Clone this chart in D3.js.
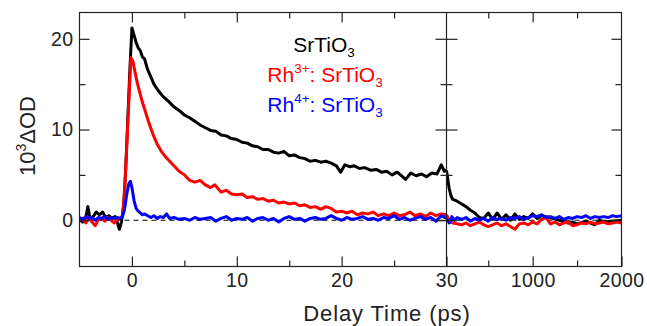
<!DOCTYPE html>
<html>
<head>
<meta charset="utf-8">
<script src="https://cdn.jsdelivr.net/npm/d3@7"></script>
<style>
  html, body { margin: 0; padding: 0; background: #fff; }
  svg { display: block; font-family: "Liberation Sans", Arial, sans-serif; }
</style>
</head>
<body>
<svg id="chart" width="647" height="326"></svg>
<script>
// ---------------- DATA ----------------
// Left panel: delay time -5 .. 30 ps (linear); right panel: 30 .. 2000 ps (linear)
const seriesNames = ["SrTiO3", "Rh3+: SrTiO3", "Rh4+: SrTiO3"];
const seriesColors = ["#000000", "#ff0000", "#0000ff"];

const xTicksLeftMajor = [0, 10, 20];
const xTicksLeftMinor = [5, 15, 25];
const xTicksRightLabelled = [30, 1000, 2000];
const xTicksRightMajor = [1000];
const xTicksRightMinor = [500, 1500];
const yTicksMajor = [0, 10, 20];
const yTicksMinor = [5, 15];

// SrTiO3 (black), short delays [t (ps), 10^3 dOD]
const blackShort = [
  [-5.0,0.1],[-4.7,-0.2],[-4.4,0.3],[-4.2,1.5],[-4.0,0.2],[-3.7,0.4],[-3.4,0.9],[-3.1,0.6],
  [-2.8,0.9],[-2.5,0.3],[-2.2,0.5],[-1.9,0.2],[-1.6,0.4],[-1.4,-0.2],[-1.2,-1.0],[-1.0,-0.2],
  [-0.8,1.5],[-0.6,5.5],[-0.4,11.0],[-0.2,16.5],[0.0,21.2],[0.2,20.4],[0.4,19.6],[0.6,19.0],
  [0.8,18.7],[1.0,18.0],[1.2,17.8],[1.5,16.6],[1.8,15.8],[2.1,15.0],[2.5,14.3],[3.0,13.6],
  [3.5,13.1],[4.0,12.5],[4.5,12.1],[5.0,11.6],[5.5,11.3],[6.0,10.9],[6.5,10.5],[7.0,10.2],
  [7.5,9.9],[8.0,9.8],[8.5,9.4],[9.0,9.3],[9.5,9.0],[10.0,8.9],[10.5,8.6],[11.0,8.5],
  [11.5,8.2],[12.0,8.1],[12.5,7.8],[13.0,7.8],[13.5,7.5],[14.0,7.4],[14.5,7.6],[15.0,7.1],
  [15.5,7.2],[16.0,6.9],[16.5,6.8],[17.0,6.5],[17.5,6.6],[18.0,6.4],[18.5,6.5],[19.0,6.3],
  [19.5,6.0],[19.9,5.3],[20.3,6.1],[20.8,5.9],[21.2,6.0],[21.7,5.7],[22.2,5.8],[22.8,5.5],
  [23.3,5.6],[23.8,5.3],[24.3,5.4],[24.8,5.0],[25.3,5.3],[25.8,4.8],[26.1,4.5],[26.6,5.2],
  [27.1,4.9],[27.6,5.1],[28.1,4.8],[28.6,5.2],[29.1,5.1],[29.5,6.1],[29.8,5.4],[30.0,5.5]
];
// SrTiO3 (black), long delays
const blackLong = [
  [30,5.5],[45,4.5],[60,3.5],[80,2.7],[100,2.3],[150,2.1],[200,1.8],[250,1.5],[300,1.1],
  [350,0.8],[400,0.3],[450,0.2],[500,0.8],[550,0.1],[600,0.8],[650,0.1],[700,0.6],[750,0.0],
  [800,0.7],[850,0.1],[900,0.4],[950,0.2],[1000,0.7],[1050,0.2],[1100,0.5],[1150,0.4],
  [1200,0.3],[1300,0.0],[1400,-0.3],[1450,-0.2],[1500,-0.4],[1600,-0.1],[1700,-0.5],
  [1750,0.0],[1800,-0.2],[1900,-0.1],[2000,0.0]
];

// Rh3+:SrTiO3 (red), short delays
const redShort = [
  [-5.0,0.0],[-4.7,0.2],[-4.4,-0.3],[-4.1,0.3],[-3.8,-0.2],[-3.5,-0.6],[-3.2,0.1],[-2.9,0.2],
  [-2.6,-0.1],[-2.3,0.3],[-2.0,0.0],[-1.7,-0.3],[-1.4,0.1],[-1.1,0.2],[-0.9,0.5],[-0.7,3.0],
  [-0.5,8.0],[-0.3,13.0],[-0.1,17.9],[0.1,17.5],[0.3,16.3],[0.5,15.2],[0.7,14.3],[1.0,13.0],
  [1.3,11.9],[1.6,10.8],[2.0,9.5],[2.4,8.4],[2.8,7.6],[3.2,7.0],[3.6,6.5],[4.0,6.0],
  [4.5,5.4],[5.0,5.0],[5.5,4.4],[6.0,4.2],[6.5,4.4],[7.0,3.9],[7.5,3.6],[7.9,3.9],
  [8.5,3.1],[9.0,3.3],[9.5,2.9],[10.0,2.8],[10.5,2.9],[11.0,2.5],[11.5,2.6],[12.0,2.3],
  [12.5,2.4],[13.0,2.1],[13.5,2.2],[14.0,1.9],[14.5,2.0],[15.0,1.8],[15.5,1.9],[16.0,1.6],
  [16.5,1.7],[17.0,1.4],[17.5,1.5],[18.0,1.2],[18.5,1.5],[19.0,1.3],[19.5,0.9],[20.0,1.0],
  [20.5,0.8],[21.0,1.0],[21.5,0.6],[22.0,0.8],[22.5,0.7],[23.0,0.9],[23.5,0.5],[24.0,0.7],
  [24.5,0.5],[25.0,0.8],[25.5,0.5],[26.0,0.6],[26.5,0.9],[27.0,0.5],[27.5,0.7],[28.0,0.4],
  [28.5,0.8],[29.0,0.5],[29.5,0.7],[30.0,0.6]
];
// Rh3+:SrTiO3 (red), long delays
const redLong = [
  [30,0.6],[50,0.2],[75,-0.2],[100,-0.3],[150,-0.4],[200,-0.5],[250,-0.3],[300,-0.6],
  [350,-0.4],[400,-0.2],[450,-0.5],[500,-0.7],[550,-0.5],[600,-0.3],[650,-0.6],[700,-0.4],
  [750,-0.7],[800,-1.0],[850,-0.4],[900,-0.3],[950,-0.5],[1000,-0.2],[1050,-0.4],[1100,0.1],
  [1150,0.3],[1200,-0.4],[1250,-0.2],[1300,-0.5],[1350,-0.3],[1400,-0.2],[1450,-0.6],
  [1500,-0.5],[1550,-0.3],[1600,-0.4],[1650,-0.2],[1700,-0.4],[1750,-0.3],[1800,-0.2],
  [1850,-0.4],[1900,-0.3],[1950,-0.2],[2000,-0.3]
];

// Rh4+:SrTiO3 (blue), short delays
const blueShort = [
  [-5.0,0.3],[-4.7,0.1],[-4.4,0.4],[-4.1,0.2],[-3.8,0.3],[-3.5,0.0],[-3.2,0.3],[-2.9,0.2],
  [-2.6,0.4],[-2.3,0.1],[-2.0,0.3],[-1.7,0.2],[-1.4,0.3],[-1.1,0.2],[-0.9,0.4],[-0.7,1.2],
  [-0.5,2.8],[-0.3,4.0],[-0.15,4.3],[0.0,3.6],[0.2,2.2],[0.4,1.3],[0.6,1.0],[0.8,0.8],
  [1.0,0.6],[1.2,0.7],[1.5,0.5],[1.8,0.3],[2.1,0.5],[2.4,0.2],[2.7,0.4],[3.0,0.3],
  [3.3,0.7],[3.6,0.2],[4.0,0.3],[4.5,0.1],[5.0,0.2],[5.5,0.0],[6.0,0.3],[6.5,0.1],
  [7.0,0.2],[7.5,0.3],[8.0,-0.1],[8.5,0.2],[9.0,0.4],[9.5,0.0],[10.0,0.2],[10.5,0.1],
  [11.0,0.3],[11.5,-0.1],[12.0,0.2],[12.5,0.3],[13.0,0.0],[13.5,0.2],[14.0,-0.2],[14.5,0.2],
  [15.0,0.4],[15.5,0.1],[16.0,0.2],[16.5,-0.1],[17.0,0.2],[17.5,0.3],[18.0,0.1],[18.5,0.2],
  [19.0,0.5],[19.5,0.2],[20.0,0.0],[20.5,0.3],[21.0,0.1],[21.5,0.2],[22.0,0.4],[22.5,0.1],
  [23.0,0.2],[23.5,0.0],[24.0,0.3],[24.5,0.2],[25.0,0.5],[25.5,0.1],[26.0,0.3],[26.5,0.0],
  [27.0,0.2],[27.5,0.4],[28.0,0.1],[28.5,0.3],[29.0,-0.1],[29.5,0.5],[30.0,0.2]
];
// Rh4+:SrTiO3 (blue), long delays
const blueLong = [
  [30,0.2],[60,-0.3],[90,0.4],[120,0.0],[150,0.3],[200,0.1],[250,0.3],[300,-0.1],[350,0.2],
  [400,0.0],[450,0.2],[500,-0.1],[550,0.3],[600,0.1],[650,0.2],[700,0.0],[750,0.3],[800,0.2],
  [850,0.4],[900,0.1],[950,0.3],[1000,0.5],[1050,0.4],[1100,0.6],[1150,0.3],[1200,0.4],
  [1250,0.2],[1300,0.4],[1350,0.1],[1400,0.3],[1450,0.2],[1500,0.4],[1550,0.3],[1600,0.5],
  [1650,0.2],[1700,0.4],[1750,0.3],[1800,0.4],[1850,0.3],[1900,0.5],[1950,0.4],[2000,0.5]
];

// ---------------- DRAW ----------------
const svg = d3.select("#chart");
const X0 = 79.5, XB = 446.5, X1 = 621.5, Y0 = 12.5, Y1 = 266.5;
const FONT = '"Liberation Sans", Arial, sans-serif';
const INK = "#222";
const fmtInt = d3.format("d");

const xL = d3.scaleLinear().domain([-5, 30]).range([X0, XB]);
const xR = d3.scaleLinear().domain([30, 2000]).range([XB, X1]);
const y = d3.scaleLinear().domain([-5.1, 22.9]).range([Y1, Y0]);

const defs = svg.append("defs");
defs.append("clipPath").attr("id", "clipL").append("rect")
  .attr("x", X0).attr("y", Y0).attr("width", XB - X0).attr("height", Y1 - Y0);
defs.append("clipPath").attr("id", "clipR").append("rect")
  .attr("x", XB).attr("y", Y0).attr("width", X1 - XB).attr("height", Y1 - Y0);

// dashed zero line
svg.append("line")
  .attr("x1", X0).attr("x2", X1).attr("y1", y(0)).attr("y2", y(0))
  .attr("stroke", "#000").attr("stroke-width", 1).attr("stroke-dasharray", "5,4");

// data lines
const shortSets = [blackShort, redShort, blueShort];
const longSets = [blackLong, redLong, blueLong];
const lineL = d3.line().x(d => xL(d[0])).y(d => y(d[1]));
const lineR = d3.line().x(d => xR(d[0])).y(d => y(d[1]));
const gL = svg.append("g").attr("clip-path", "url(#clipL)");
const gR = svg.append("g").attr("clip-path", "url(#clipR)");
shortSets.forEach((s, i) => {
  gL.append("path").datum(s).attr("d", lineL).attr("fill", "none")
    .attr("stroke", seriesColors[i]).attr("stroke-width", 3).attr("stroke-linejoin", "round");
});
longSets.forEach((s, i) => {
  gR.append("path").datum(s).attr("d", lineR).attr("fill", "none")
    .attr("stroke", seriesColors[i]).attr("stroke-width", 3).attr("stroke-linejoin", "round");
});

// frame
svg.append("rect").attr("x", X0).attr("y", Y0).attr("width", X1 - X0).attr("height", Y1 - Y0)
  .attr("fill", "none").attr("stroke", INK).attr("stroke-width", 1.2);
svg.append("line").attr("x1", XB).attr("x2", XB).attr("y1", Y0).attr("y2", Y1)
  .attr("stroke", INK).attr("stroke-width", 1.2);

function styleAxis(g) {
  g.select(".domain").remove();
  g.selectAll(".tick line").attr("stroke", INK).attr("stroke-width", 1.2);
  g.selectAll(".tick text").attr("fill", INK).style("font-family", FONT)
    .style("font-size", "19.5px").style("letter-spacing", "0.4px");
}
function noLabel() { return ""; }

// bottom axis (left panel)
svg.append("g").attr("transform", `translate(0,${Y1})`)
  .call(d3.axisBottom(xL).tickValues(xTicksLeftMajor).tickSize(-10).tickPadding(7).tickFormat(fmtInt))
  .call(styleAxis);
svg.append("g").attr("transform", `translate(0,${Y1})`)
  .call(d3.axisBottom(xL).tickValues(xTicksLeftMinor).tickSize(-6).tickFormat(noLabel))
  .call(styleAxis);
// bottom axis (right panel)
svg.append("g").attr("transform", `translate(0,${Y1})`)
  .call(d3.axisBottom(xR).tickValues(xTicksRightLabelled).tickSize(-10).tickPadding(7).tickFormat(fmtInt))
  .call(styleAxis);
svg.append("g").attr("transform", `translate(0,${Y1})`)
  .call(d3.axisBottom(xR).tickValues(xTicksRightMinor).tickSize(-6).tickFormat(noLabel))
  .call(styleAxis);
// top axes (mirror, no labels)
svg.append("g").attr("transform", `translate(0,${Y0})`)
  .call(d3.axisTop(xL).tickValues(xTicksLeftMajor).tickSize(-10).tickFormat(noLabel)).call(styleAxis);
svg.append("g").attr("transform", `translate(0,${Y0})`)
  .call(d3.axisTop(xL).tickValues(xTicksLeftMinor).tickSize(-6).tickFormat(noLabel)).call(styleAxis);
svg.append("g").attr("transform", `translate(0,${Y0})`)
  .call(d3.axisTop(xR).tickValues(xTicksRightMajor).tickSize(-10).tickFormat(noLabel)).call(styleAxis);
svg.append("g").attr("transform", `translate(0,${Y0})`)
  .call(d3.axisTop(xR).tickValues(xTicksRightMinor).tickSize(-6).tickFormat(noLabel)).call(styleAxis);

// left y axis
svg.append("g").attr("transform", `translate(${X0},0)`)
  .call(d3.axisLeft(y).tickValues(yTicksMajor).tickSize(-10).tickPadding(6).tickFormat(fmtInt)).call(styleAxis);
svg.append("g").attr("transform", `translate(${X0},0)`)
  .call(d3.axisLeft(y).tickValues(yTicksMinor).tickSize(-6).tickFormat(noLabel)).call(styleAxis);
// right y axis
svg.append("g").attr("transform", `translate(${X1},0)`)
  .call(d3.axisRight(y).tickValues(yTicksMajor).tickSize(-10).tickFormat(noLabel)).call(styleAxis);
svg.append("g").attr("transform", `translate(${X1},0)`)
  .call(d3.axisRight(y).tickValues(yTicksMinor).tickSize(-6).tickFormat(noLabel)).call(styleAxis);
// break line ticks (both sides)
[d3.axisLeft, d3.axisRight].forEach(ax => {
  svg.append("g").attr("transform", `translate(${XB},0)`)
    .call(ax(y).tickValues(yTicksMajor).tickSize(11).tickFormat(noLabel)).call(styleAxis);
  svg.append("g").attr("transform", `translate(${XB},0)`)
    .call(ax(y).tickValues(yTicksMinor).tickSize(6).tickFormat(noLabel)).call(styleAxis);
});

// rich text helper
function richText(x, yb, parts, size, color, anchor, rotate) {
  const t = svg.append("text")
    .attr("text-anchor", anchor).attr("fill", color)
    .style("font-family", FONT).style("font-size", size + "px");
  if (rotate) t.attr("transform", `translate(${x},${yb}) rotate(-90)`);
  else t.attr("x", x).attr("y", yb);
  let shift = 0;
  parts.forEach(p => {
    const ts = t.append("tspan").text(p.t);
    let target = 0, fs = size;
    if (p.sup) { target = -0.42 * size; fs = size * 0.64; }
    if (p.sub) { target = 0.22 * size; fs = size * 0.64; }
    ts.attr("dy", target - shift).style("font-size", fs + "px");
    shift = target;
  });
  return t;
}

// axis titles
svg.append("text").attr("x", 387).attr("y", 321).attr("text-anchor", "middle")
  .attr("fill", INK).style("font-family", FONT).style("font-size", "22px")
  .style("letter-spacing", "0.9px").text("Delay Time (ps)");
richText(35, 136, [{t:"10"}, {t:"3", sup:true}, {t:"ΔOD"}], 22, INK, "middle", true);

// legend
richText(324, 52, [{t:"SrTiO"}, {t:"3", sub:true}], 21, seriesColors[0], "middle");
richText(325, 82, [{t:"Rh"}, {t:"3+", sup:true}, {t:": SrTiO"}, {t:"3", sub:true}], 21, seriesColors[1], "middle");
richText(325, 112, [{t:"Rh"}, {t:"4+", sup:true}, {t:": SrTiO"}, {t:"3", sub:true}], 21, seriesColors[2], "middle");
</script>
</body>
</html>
